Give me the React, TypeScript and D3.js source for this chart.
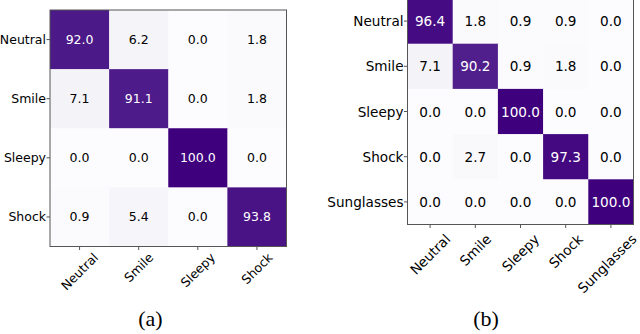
import React, { useEffect, useRef } from "react";
import * as d3 from "d3";

// confusion matrix (a)
const labelsA = ["Neutral", "Smile", "Sleepy", "Shock"];
const valuesA = [
  [92.0, 6.2, 0.0, 1.8],
  [7.1, 91.1, 0.0, 1.8],
  [0.0, 0.0, 100.0, 0.0],
  [0.9, 5.4, 0.0, 93.8],
];

// confusion matrix (b)
const labelsB = ["Neutral", "Smile", "Sleepy", "Shock", "Sunglasses"];
const valuesB = [
  [96.4, 1.8, 0.9, 0.9, 0.0],
  [7.1, 90.2, 0.9, 1.8, 0.0],
  [0.0, 0.0, 100.0, 0.0, 0.0],
  [0.0, 2.7, 0.0, 97.3, 0.0],
  [0.0, 0.0, 0.0, 0.0, 100.0],
];

const captions = ["(a)", "(b)"];

function drawMatrix(svg: any, labels: string[], values: number[][], box: any) {
  const g = svg.append("g");
  const fs = box.fs;
  const x = d3.scaleBand().domain(labels).range([box.x, box.x + box.size]);
  const y = d3.scaleBand().domain(labels).range([box.y, box.y + box.size]);
  const color = d3.scaleSequential(d3.interpolatePurples).domain([0, 100]);

  const cells = values.flatMap((row, i) =>
    row.map((v, j) => ({ r: labels[i], c: labels[j], v }))
  );

  g.selectAll("rect.cell")
    .data(cells)
    .join("rect")
    .attr("class", "cell")
    .attr("x", (d: any) => x(d.c))
    .attr("y", (d: any) => y(d.r))
    .attr("width", x.bandwidth() + 0.5)
    .attr("height", y.bandwidth() + 0.5)
    .attr("fill", (d: any) => color(d.v));

  g.selectAll("text.val")
    .data(cells)
    .join("text")
    .attr("class", "val")
    .attr("x", (d: any) => x(d.c)! + x.bandwidth() / 2)
    .attr("y", (d: any) => y(d.r)! + y.bandwidth() / 2)
    .attr("text-anchor", "middle")
    .attr("dominant-baseline", "central")
    .style("font-family", "DejaVu Sans")
    .style("font-size", fs + "px")
    .attr("fill", (d: any) => (d.v > 50 ? "white" : "black"))
    .text((d: any) => d.v.toFixed(1));

  // frame
  g.append("rect")
    .attr("x", box.x)
    .attr("y", box.y)
    .attr("width", box.size)
    .attr("height", box.size)
    .attr("fill", "none")
    .attr("stroke", "#555")
    .attr("stroke-width", 1);

  // y ticks + labels
  labels.forEach((l) => {
    const cy = y(l)! + y.bandwidth() / 2;
    g.append("line")
      .attr("x1", box.x - 3.5).attr("x2", box.x)
      .attr("y1", cy).attr("y2", cy)
      .attr("stroke", "#555");
    g.append("text")
      .attr("x", box.x - 4)
      .attr("y", cy)
      .attr("text-anchor", "end")
      .attr("dominant-baseline", "central")
      .style("font-family", "DejaVu Sans")
      .style("font-size", fs + "px")
      .attr("fill", "black")
      .text(l);
  });

  // x ticks + rotated labels (bbox centred under tick)
  const bottom = box.y + box.size;
  labels.forEach((l) => {
    const cx = x(l)! + x.bandwidth() / 2;
    g.append("line")
      .attr("x1", cx).attr("x2", cx)
      .attr("y1", bottom).attr("y2", bottom + 3.5)
      .attr("stroke", "#555");
    const t = g.append("text")
      .attr("text-anchor", "middle")
      .attr("dominant-baseline", "central")
      .style("font-family", "DejaVu Sans")
      .style("font-size", fs + "px")
      .attr("fill", "black")
      .text(l);
    const w = (t.node() as SVGTextElement).getComputedTextLength();
    const bh = (w + fs * 1.05) * Math.SQRT1_2;
    const cy = bottom + box.pad + bh / 2;
    // keep inside the picture on the right
    const tx = Math.min(cx, 639 - bh / 2);
    t.attr("transform", `translate(${tx},${cy}) rotate(-45)`);
  });
}

export default function App() {
  const ref = useRef<SVGSVGElement>(null);

  useEffect(() => {
    const svg = d3.select(ref.current);
    svg.selectAll("*").remove();
    drawMatrix(svg, labelsA, valuesA, { x: 50, y: 10, size: 236.5, fs: 12.5, pad: 4 });
    drawMatrix(svg, labelsB, valuesB, { x: 407.5, y: -1.5, size: 226, fs: 13.6, pad: 7 });

    svg.selectAll("text.cap")
      .data(captions)
      .join("text")
      .attr("class", "cap")
      .attr("x", (d: string, i: number) => (i === 0 ? 150.5 : 486))
      .attr("y", 326)
      .attr("text-anchor", "middle")
      .style("font-family", "Liberation Serif")
      .style("font-size", "22px")
      .attr("fill", "black")
      .text((d: string) => d);
  }, []);

  return (
    <svg
      ref={ref}
      width={640}
      height={334}
      style={{ position: "absolute", left: 0, top: 0, background: "white" }}
    />
  );
}
